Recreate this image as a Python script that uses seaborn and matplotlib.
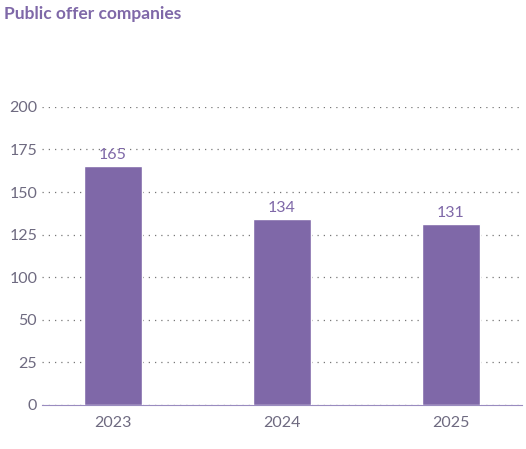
import matplotlib
matplotlib.use("Agg")
import matplotlib.pyplot as plt
import seaborn as sns
import pandas as pd
import numpy as np

years = ["2023", "2024", "2025"]
values = [165, 134, 131]
yticks = [0, 25, 50, 100, 125, 150, 175, 200]

sns.set_style("white")
plt.rcParams['font.family'] = ['Lato', 'DejaVu Sans']
purple = "#7f68a8"
tickc = "#6e6a80"

tick_arr = np.array(yticks, dtype=float)
pos_arr = np.arange(len(yticks), dtype=float)
fwd = lambda v: np.interp(v, tick_arr, pos_arr)
inv = lambda p: np.interp(p, pos_arr, tick_arr)

df = pd.DataFrame({"year": years, "value": values})
fig = plt.figure(figsize=(5.26, 4.49), dpi=100)
ax = fig.add_axes([0.08, 0.098, 0.912, 0.664])
sns.barplot(data=df, x="year", y="value", color=purple, width=0.34, saturation=1, ax=ax, zorder=3)
ax.set_yscale("function", functions=(fwd, inv))
ax.set_xlim(-0.42, 2.42)
ax.set_ylim(0, 200)
ax.set_yticks(yticks)
ax.set_yticklabels([str(t) for t in yticks])
ax.yaxis.set_minor_locator(matplotlib.ticker.NullLocator())
ax.yaxis.grid(True, linestyle=(0, (1, 4)), color="#777777", linewidth=0.9)
ax.set_axisbelow(True)
for s in ["top", "right", "left"]:
    ax.spines[s].set_visible(False)
ax.spines["bottom"].set_color("#9a8cc0")
ax.tick_params(axis="both", length=0, labelsize=11.5, colors=tickc)
ax.tick_params(axis="x", pad=8)
ax.set_xlabel("")
ax.set_ylabel("")
for c in ax.containers:
    ax.bar_label(c, labels=[str(v) for v in values], padding=3, color=purple, fontsize=11.5)
fig.text(0.008, 0.968, "Public offer companies", color=purple, fontsize=12.5, fontweight="bold", va="center")
fig.savefig("out.png", dpi=100)
